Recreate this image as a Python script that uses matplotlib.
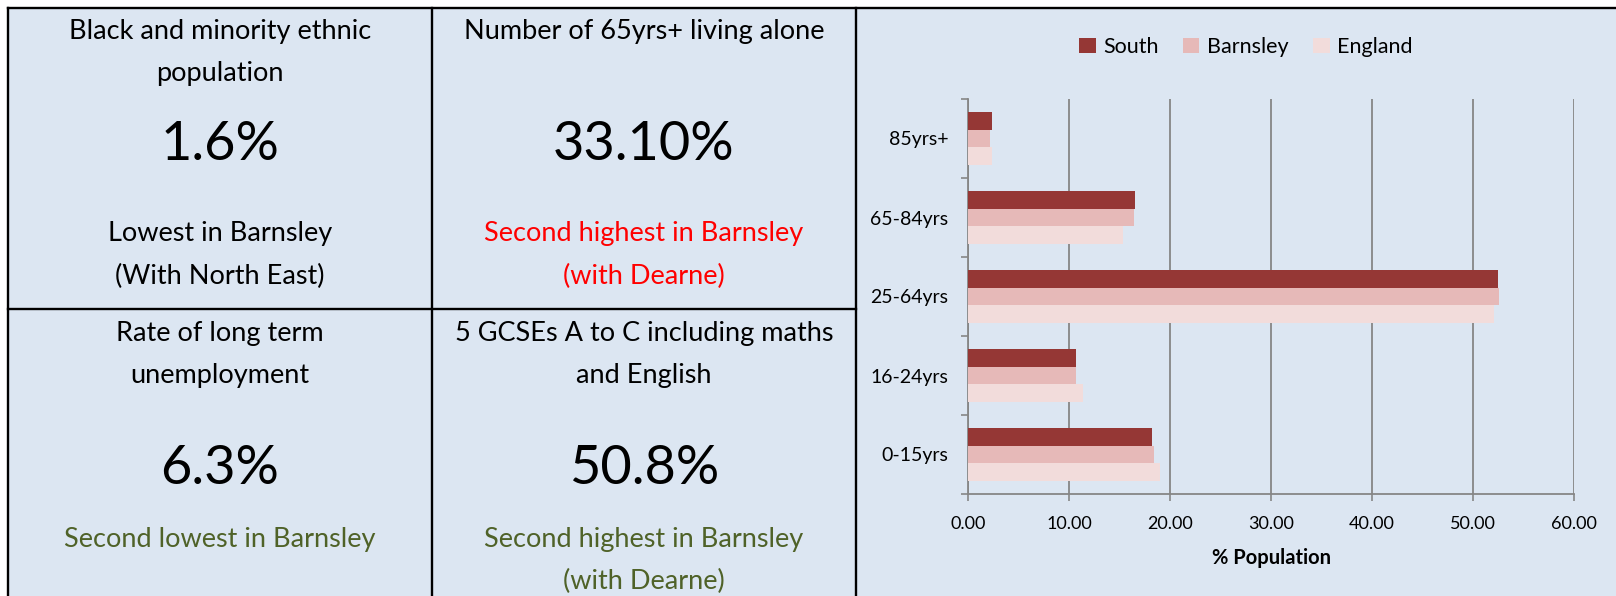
import matplotlib
matplotlib.use("Agg")
import matplotlib.pyplot as plt
import numpy as np
from matplotlib.patches import Rectangle, Patch

plt.rcParams['font.family'] = ['Lato', 'DejaVu Sans']

# ---- data ----
categories = ['0-15yrs', '16-24yrs', '25-64yrs', '65-84yrs', '85yrs+']
south = [18.15, 10.65, 52.45, 16.5, 2.35]
barnsley = [18.4, 10.65, 52.6, 16.4, 2.15]
england = [19.0, 11.35, 52.05, 15.35, 2.3]
series_names = ['South', 'Barnsley', 'England']
x_ticks = [0, 10, 20, 30, 40, 50, 60]

panel_titles = ["Black and minority ethnic\npopulation",
                "Number of 65yrs+ living alone",
                "Rate of long term\nunemployment",
                "5 GCSEs A to C including maths\nand English"]
panel_values = ["1.6%", "33.10%", "6.3%", "50.8%"]
panel_notes = ["Lowest in Barnsley\n(With North East)",
               "Second highest in Barnsley\n(with Dearne)",
               "Second lowest in Barnsley",
               "Second highest in Barnsley\n(with Dearne)"]

W, H = 1616, 596
BG = '#DCE6F2'
C_SOUTH, C_BARN, C_ENG = '#953735', '#E6B9B8', '#F2DCDB'
RED, GREEN = '#FF0000', '#4F6228'
GRID = '#868686'

fig = plt.figure(figsize=(W / 100, H / 100), dpi=100)
fig.patch.set_facecolor('white')

# background / panel layer in pixel coordinates
bg = fig.add_axes([0, 0, 1, 1])
bg.set_xlim(0, W)
bg.set_ylim(H, 0)
bg.axis('off')
bg.add_patch(Rectangle((8, 8), W - 8, H - 8, facecolor=BG, edgecolor='none', zorder=0))
lw = 1.7
bg.plot([8, W], [8, 8], color='black', lw=lw)
bg.plot([8, 8], [8, H], color='black', lw=lw)
bg.plot([432, 432], [8, H], color='black', lw=lw)
bg.plot([856, 856], [8, H], color='black', lw=lw)
bg.plot([8, 856], [309, 309], color='black', lw=lw)

note_colors = ['black', RED, GREEN, GREEN]
centers_x = [220, 644, 220, 644]
title_y = [32, 32, 334, 334]
value_y = [145, 145, 468, 468]
note_y = [234, 234, 539, 539]
dy = 42
for i in range(4):
    tl = panel_titles[i].split('\n')
    for k, line in enumerate(tl):
        bg.text(centers_x[i], title_y[i] + dy * k, line, ha='center', va='center',
                fontsize=19.5, color='black')
    bg.text(centers_x[i], value_y[i], panel_values[i], ha='center', va='center',
            fontsize=39, color='black')
    nl = panel_notes[i].split('\n')
    for k, line in enumerate(nl):
        bg.text(centers_x[i], note_y[i] + dy * k, line, ha='center', va='center',
                fontsize=19.5, color=note_colors[i])

# chart
ax_l, ax_r, ax_t, ax_b = 968.3, 1574.0, 99, 494
ax = fig.add_axes([ax_l / W, 1 - ax_b / H, (ax_r - ax_l) / W, (ax_b - ax_t) / H])
ax.set_facecolor('none')
y = np.arange(len(categories))
h = 0.22
ax.barh(y + h, south, height=h, color=C_SOUTH, label=series_names[0], zorder=3)
ax.barh(y, barnsley, height=h, color=C_BARN, label=series_names[1], zorder=3)
ax.barh(y - h, england, height=h, color=C_ENG, label=series_names[2], zorder=3)
ax.set_xlim(0, 60)
ax.set_ylim(-0.5, len(categories) - 0.5)
ax.set_xticks(x_ticks)
ax.set_xticklabels([f"{v:.2f}" for v in x_ticks])
ax.set_yticks(y)
ax.set_yticklabels(categories)
ax.set_yticks(np.arange(-0.5, len(categories), 1), minor=True)
ax.tick_params(axis='y', which='major', length=0, pad=14.5, labelsize=14)
ax.tick_params(axis='y', which='minor', length=5, color=GRID, width=1.2)
ax.tick_params(axis='x', length=5, color=GRID, width=1.2, labelsize=13, pad=11)
ax.grid(axis='x', color=GRID, lw=1.3, zorder=0)
for s in ['top', 'right']:
    ax.spines[s].set_visible(False)
for s in ['left', 'bottom']:
    ax.spines[s].set_color(GRID)
    ax.spines[s].set_linewidth(1.3)
ax.set_xlabel('% Population', fontsize=14.5, fontweight='bold', labelpad=11)

handles = [Patch(facecolor=c) for c in (C_SOUTH, C_BARN, C_ENG)]
fig.legend(handles, series_names, loc='center', bbox_to_anchor=(1246 / W, 1 - 47 / H),
           ncol=3, frameon=False, fontsize=15.5, handlelength=0.75, handleheight=0.75,
           handletextpad=0.35, columnspacing=1.15)

fig.savefig('out.png', dpi=100, facecolor='white')
